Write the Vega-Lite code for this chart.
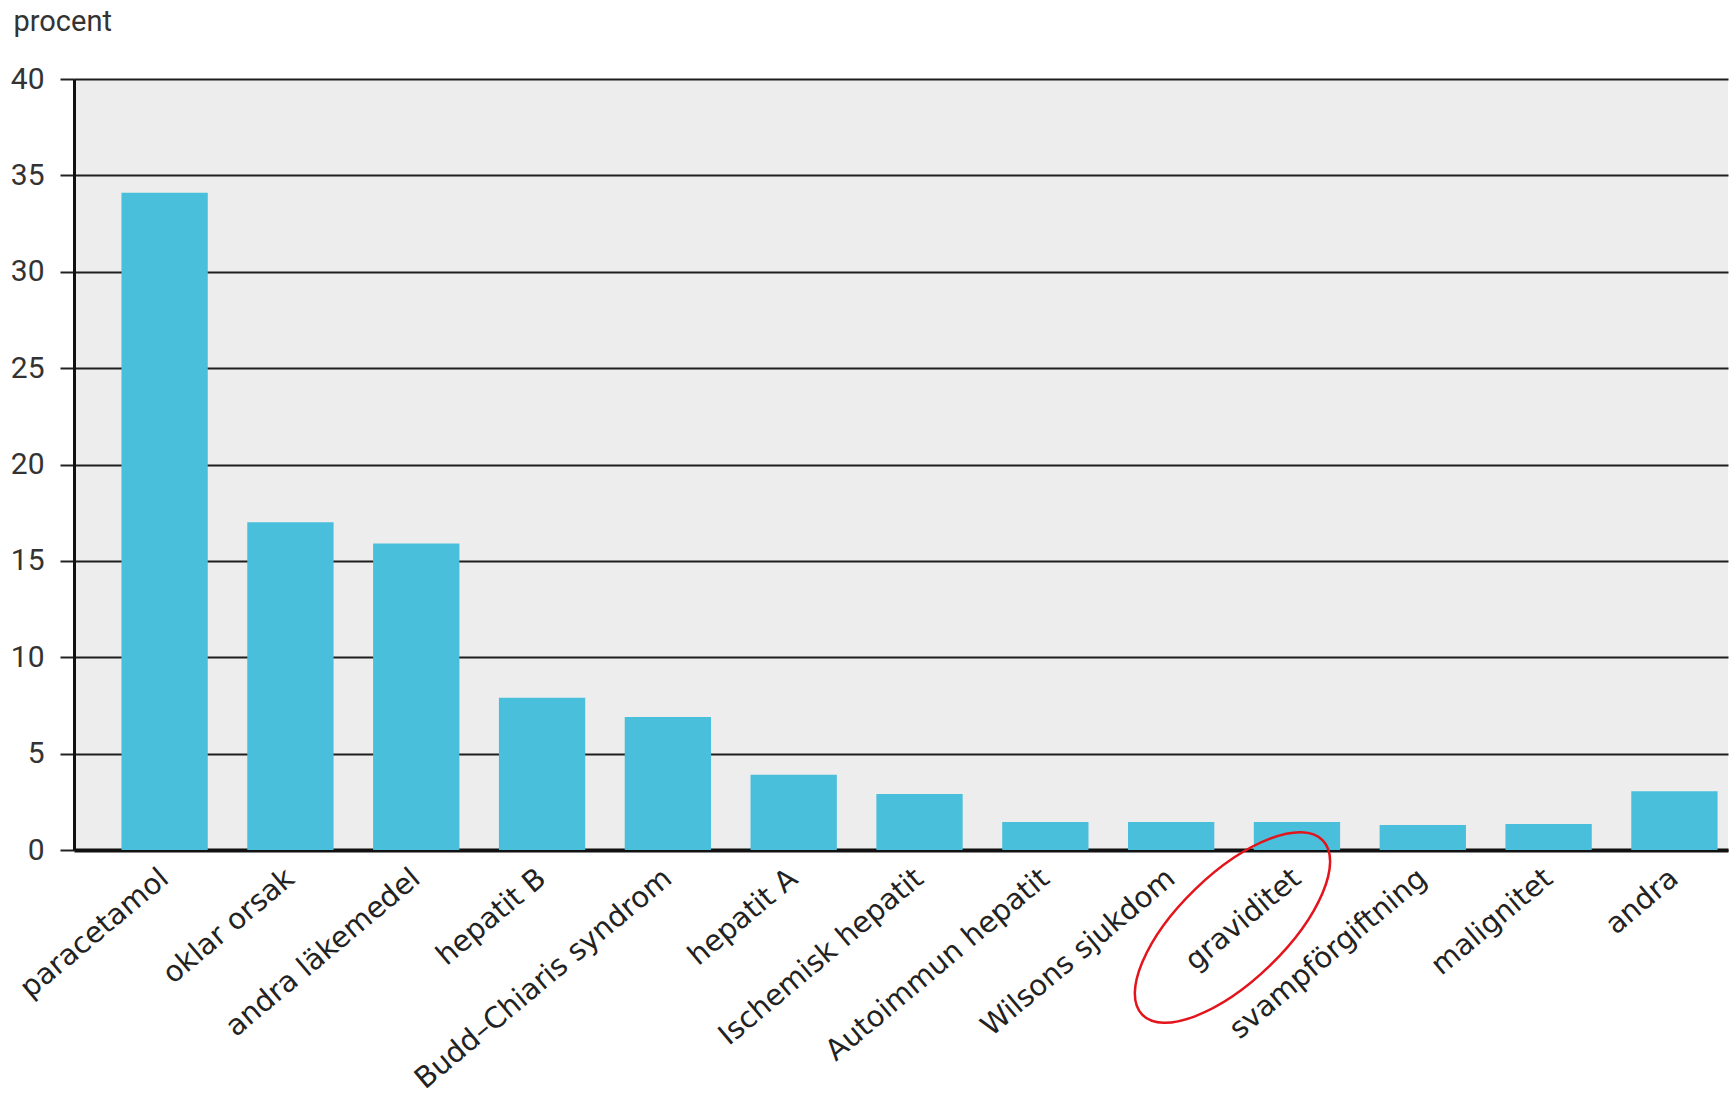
{
  "$schema": "https://vega.github.io/schema/vega-lite/v6.json",
  "autosize": {"type": "none"},
  "width": 1654,
  "height": 771,
  "padding": {"left": 74, "top": 79, "right": 7, "bottom": 254},
  "background": "#ffffff",
  "config": {
    "view": {"fill": "#ededed", "stroke": null},
    "axis": {"labelFont": "Roboto", "titleFont": "Roboto"}
  },
  "data": {
    "values": [
      {"orsak": "paracetamol", "procent": 34.1},
      {"orsak": "oklar orsak", "procent": 17.0},
      {"orsak": "andra läkemedel", "procent": 15.9},
      {"orsak": "hepatit B", "procent": 7.9},
      {"orsak": "Budd–Chiaris syndrom", "procent": 6.9},
      {"orsak": "hepatit A", "procent": 3.9},
      {"orsak": "Ischemisk hepatit", "procent": 2.9},
      {"orsak": "Autoimmun hepatit", "procent": 1.45},
      {"orsak": "Wilsons sjukdom", "procent": 1.45},
      {"orsak": "graviditet", "procent": 1.45},
      {"orsak": "svampförgiftning", "procent": 1.3},
      {"orsak": "malignitet", "procent": 1.35},
      {"orsak": "andra", "procent": 3.05}
    ]
  },
  "encoding": {
    "x": {
      "field": "orsak",
      "type": "nominal",
      "sort": null,
      "scale": {"paddingInner": 0.314, "paddingOuter": 0.23, "align": 0.82},
      "axis": {
        "title": null,
        "ticks": false,
        "domainColor": "#111111",
        "domainWidth": 4,
        "labelAngle": -40,
        "labelAlign": "right",
        "labelBaseline": "middle",
        "labelPadding": 24,
        "labelFont": "DejaVu Sans",
        "labelFontSize": 29,
        "labelColor": "#222222",
        "labelLimit": 0,
        "grid": false
      }
    }
  },
  "layer": [
    {
      "mark": {"type": "bar", "color": "#49bfdb"},
      "encoding": {
        "y": {
          "field": "procent",
          "type": "quantitative",
          "scale": {"domain": [0, 40], "nice": false},
          "axis": {
            "values": [0, 5, 10, 15, 20, 25, 30, 35, 40],
            "title": "procent",
            "titleAngle": 0,
            "titleAlign": "left",
            "titleBaseline": "alphabetic",
            "titleX": -61,
            "titleY": -49,
            "titleFontSize": 29,
            "titleFontWeight": "normal",
            "titleColor": "#333333",
            "labelFontSize": 30,
            "labelColor": "#333333",
            "labelPadding": 16,
            "tickSize": 14,
            "tickWidth": 2,
            "tickColor": "#222222",
            "domainColor": "#111111",
            "domainWidth": 3,
            "grid": true,
            "gridColor": "#1e1e1e",
            "gridWidth": 2.2
          }
        }
      }
    },
    {
      "transform": [{"filter": "datum.orsak === 'graviditet'"}],
      "mark": {
        "type": "point",
        "shape": "M-1,0A1,0.426,0,1,1,1,0A1,0.426,0,1,1,-1,0Z",
        "filled": false,
        "stroke": "#e3141b",
        "strokeWidth": 2.5,
        "size": 63001,
        "angle": -44,
        "xOffset": -64.5,
        "yOffset": 77.5,
        "opacity": 1
      },
      "encoding": {
        "y": {"datum": 0}
      }
    }
  ]
}
